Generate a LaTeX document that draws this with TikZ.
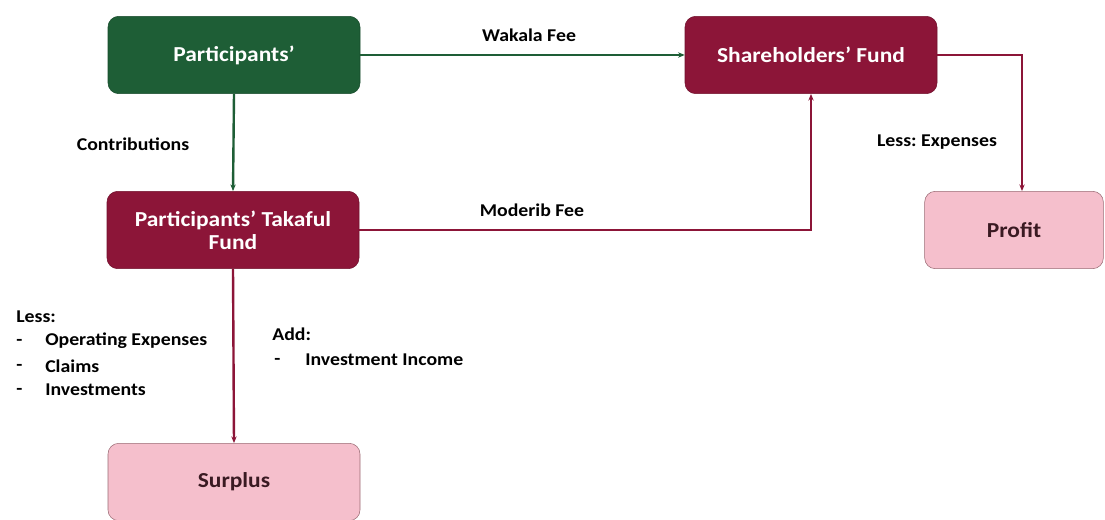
\documentclass[tikz,border=0pt]{standalone}
\usepackage{fontspec}
\setmainfont{Carlito}[FakeStretch=1.1]
\usetikzlibrary{arrows.meta}
\definecolor{dgreen}{HTML}{1E5E36}
\definecolor{maroon}{HTML}{8C1538}
\definecolor{lpink}{HTML}{F5BFCC}
\definecolor{pinkedge}{HTML}{9A6A74}
\definecolor{dtext}{HTML}{3A1A22}
\frenchspacing
\begin{document}
\begin{tikzpicture}[x=0.75pt,y=-0.75pt,
  box/.style={rounded corners=8pt, minimum width=189pt, minimum height=58pt, align=center, font=\bfseries\fontsize{16}{17}\selectfont, inner sep=2pt},
  greenbox/.style={box, fill=dgreen, draw=dgreen!80!black, text=white},
  redbox/.style={box, fill=maroon, draw=maroon!80!black, text=white},
  pinkbox/.style={box, fill=lpink, draw=pinkedge, text=dtext},
  gline/.style={draw=dgreen, line width=1.8pt, -{Stealth[length=5pt,width=4pt]}},
  rline/.style={draw=maroon, line width=1.8pt, -{Stealth[length=5pt,width=4pt]}},
  lbl/.style={font=\bfseries\fontsize{13.5}{15}\selectfont, text=black, inner sep=0pt}
]
\useasboundingbox (0,0) rectangle (1105,520);
\node[greenbox] (part) at (234,55) {Participants'};
\node[redbox] (share) at (811,55) {Shareholders' Fund};
\node[redbox] (ptf) at (233,230) {Participants' Takaful\\Fund};
\node[pinkbox] (surplus) at (234,482) {Surplus};
\node[pinkbox, minimum width=134pt] (profit) at (1014,230) {Profit};

\draw[gline] (part.east) -- (share.west);
\draw[gline] (part.south) -- (ptf.north);
\draw[rline] (ptf.east) -| (share.south);
\draw[rline] (share.east) -| (profit.north -| 1022,0) ;
\draw[rline] (ptf.south) -- (surplus.north);

\node[lbl] (wak) at (529,35) {Wakala Fee};
\node[lbl] (con) at (133,144) {Contributions};
\node[lbl] (mod) at (532,210) {Moderib Fee};
\node[lbl] (lexp) at (937,142) {Less: Expenses};
\node[lbl, anchor=west] (less) at (16,317) {Less:};
\node[lbl, anchor=west] (d1) at (16,342) {-};
\node[lbl, anchor=west] (o1) at (45,341) {Operating Expenses};
\node[lbl, anchor=west] (d2) at (16,367) {-};
\node[lbl, anchor=west] (o2) at (45,366) {Claims};
\node[lbl, anchor=west] (d3) at (16,391) {-};
\node[lbl, anchor=west] (o3) at (45,390) {Investments};
\node[lbl, anchor=west] (add) at (272,334) {Add:};
\node[lbl, anchor=west] (d4) at (274,361) {-};
\node[lbl, anchor=west] (o4) at (305,360) {Investment Income};
\end{tikzpicture}
\end{document}
